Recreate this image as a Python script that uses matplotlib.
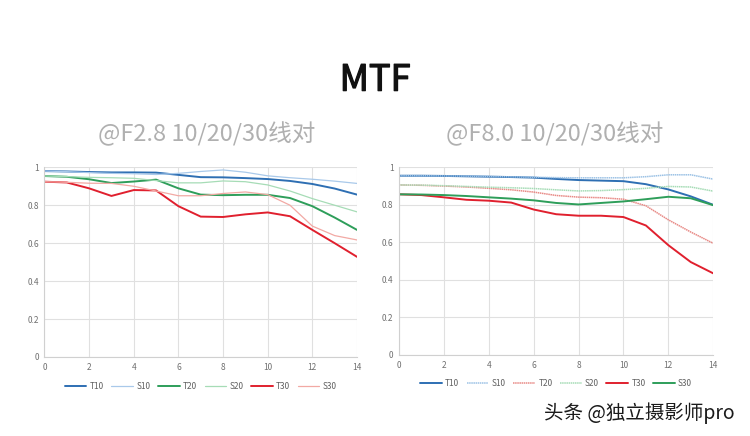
import matplotlib
matplotlib.use("Agg")
import matplotlib.pyplot as plt
import matplotlib.patheffects as pe

plt.rcParams['font.family'] = ['Noto Sans CJK SC', 'DejaVu Sans']

# Field position (mm) and MTF readings
x = list(range(0, 15))

# @F2.8
f28_T10 = [0.980, 0.978, 0.975, 0.973, 0.973, 0.972, 0.960, 0.948, 0.947, 0.943, 0.938, 0.928, 0.912, 0.888, 0.856]
f28_S10 = [0.980, 0.977, 0.972, 0.968, 0.966, 0.962, 0.968, 0.978, 0.986, 0.974, 0.955, 0.945, 0.937, 0.927, 0.915]
f28_T20 = [0.954, 0.950, 0.937, 0.917, 0.925, 0.935, 0.889, 0.856, 0.853, 0.855, 0.855, 0.838, 0.795, 0.735, 0.670]
f28_S20 = [0.954, 0.951, 0.947, 0.945, 0.942, 0.930, 0.918, 0.918, 0.928, 0.924, 0.907, 0.875, 0.835, 0.800, 0.765]
f28_T30 = [0.924, 0.920, 0.889, 0.849, 0.880, 0.878, 0.795, 0.740, 0.738, 0.752, 0.762, 0.742, 0.670, 0.600, 0.528]
f28_S30 = [0.924, 0.921, 0.916, 0.915, 0.900, 0.875, 0.850, 0.850, 0.862, 0.870, 0.856, 0.800, 0.690, 0.640, 0.617]

# @F8.0
f80_T10 = [0.955, 0.955, 0.954, 0.952, 0.950, 0.948, 0.945, 0.938, 0.932, 0.929, 0.926, 0.910, 0.882, 0.845, 0.800]
f80_S10 = [0.955, 0.955, 0.954, 0.953, 0.951, 0.949, 0.947, 0.945, 0.944, 0.944, 0.944, 0.950, 0.960, 0.960, 0.937]
f80_T20 = [0.906, 0.904, 0.900, 0.895, 0.888, 0.880, 0.868, 0.850, 0.841, 0.838, 0.830, 0.795, 0.720, 0.655, 0.595]
f80_S20 = [0.906, 0.905, 0.902, 0.898, 0.894, 0.891, 0.887, 0.880, 0.874, 0.876, 0.881, 0.888, 0.898, 0.895, 0.873]
f80_T30 = [0.856, 0.852, 0.840, 0.827, 0.822, 0.812, 0.775, 0.750, 0.742, 0.742, 0.735, 0.690, 0.585, 0.495, 0.435]
f80_S30 = [0.856, 0.855, 0.852, 0.847, 0.840, 0.833, 0.824, 0.810, 0.802, 0.810, 0.818, 0.830, 0.843, 0.835, 0.798]

names = ['T10', 'S10', 'T20', 'S20', 'T30', 'S30']
left_series = [f28_T10, f28_S10, f28_T20, f28_S20, f28_T30, f28_S30]
right_series = [f80_T10, f80_S10, f80_T20, f80_S20, f80_T30, f80_S30]

# (color, linestyle, linewidth)
dot = (0, (1, 0.4))
left_styles = [('#2e6fb3', '-', 1.4), ('#a9c9ea', '-', 0.9), ('#2e9e5a', '-', 1.4),
               ('#a6dcb6', '-', 0.9), ('#e0202e', '-', 1.4), ('#f2a9a4', '-', 0.9)]
right_styles = [('#2e6fb3', '-', 1.4), ('#9cc2e5', dot, 1.1), ('#e88a86', dot, 1.1),
                ('#a6dcb6', dot, 1.1), ('#e0202e', '-', 1.4), ('#2e9e5a', '-', 1.4)]

fig = plt.figure(figsize=(7.5, 4.36), dpi=100)
fig.patch.set_facecolor('white')

fig.text(0.5, 0.815, 'MTF', ha='center', va='center', fontsize=26, color='#111111',
         path_effects=[pe.withStroke(linewidth=0.9, foreground='#111111')])
fig.text(0.276, 0.693, '@F2.8 10/20/30线对', ha='center', va='center', fontsize=17,
         color='#b0b0b0')
fig.text(0.740, 0.693, '@F8.0 10/20/30线对', ha='center', va='center', fontsize=17,
         color='#b0b0b0')


def draw_panel(rect, series, styles, legend_y):
    ax = fig.add_axes(rect)
    for vals, name, (c, ls, lw) in zip(series, names, styles):
        ax.plot(x, vals, color=c, linestyle=ls, linewidth=lw, label=name,
                solid_joinstyle='round', solid_capstyle='round')
    ax.set_xlim(0, 14)
    ax.set_ylim(0, 1)
    ax.set_xticks(range(0, 15, 2))
    ax.set_yticks([0, 0.2, 0.4, 0.6, 0.8, 1])
    ax.set_yticklabels(['0', '0.2', '0.4', '0.6', '0.8', '1'])
    ax.grid(True, color='#e0e0e0', linewidth=0.8)
    ax.set_axisbelow(True)
    for s in ['top', 'right']:
        ax.spines[s].set_visible(False)
    for s in ['left', 'bottom']:
        ax.spines[s].set_color('#d0d0d0')
        ax.spines[s].set_linewidth(0.8)
    ax.tick_params(length=0, labelsize=6, labelcolor='#707070', pad=4)
    leg = ax.legend(loc='upper center', bbox_to_anchor=(0.5, legend_y), ncol=6, frameon=False,
                    fontsize=6, handlelength=2.6, handletextpad=0.4, columnspacing=0.9)
    for t in leg.get_texts():
        t.set_color('#606060')
    return ax


draw_panel([0.0593, 0.1812, 0.4167, 0.4351], left_series, left_styles, -0.09)
draw_panel([0.532, 0.1858, 0.419, 0.4305], right_series, right_styles, -0.09)

fig.text(0.98, 0.052, '头条 @独立摄影师pro', ha='right', va='center', fontsize=14, color='#1a1a1a')

fig.savefig('out.png', dpi=100, facecolor='white')
